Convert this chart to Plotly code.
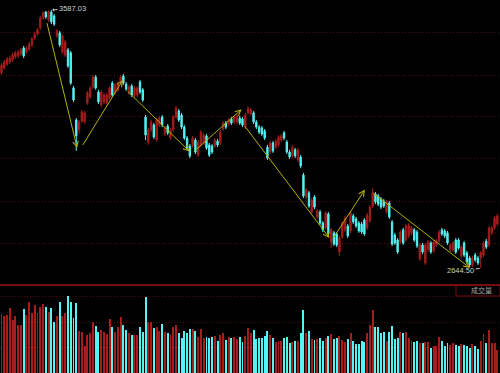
import plotly.graph_objects as go

# ---------------- data ----------------
opens = [3358,3376,3390,3398,3405,3416,3420,3427,3449,3434,3445,3460,3485,3500,3522,3558,3580,3551,3580,3566,
         3493,3504,3434,3423,3442,3431,3303,3186,3150,3182,3179,3248,3270,3306,3343,3288,3241,3252,3248,3266,
         3321,3285,3296,3321,3347,3317,3285,3310,3274,3277,3325,3296,3197,3106,3150,3168,3113,3168,3197,3135,
         3164,3120,3150,3197,3219,3204,3160,3120,3091,3091,3113,3058,3095,3102,3128,3095,3091,3091,3109,3102,
         3153,3175,3171,3190,3179,3179,3193,3190,3160,3212,3208,3212,3179,3160,3157,3146,3087,3069,3102,3087,
         3095,3113,3139,3106,3069,3055,3077,3040,3051,2985,2905,2920,2850,2905,2832,2850,2810,2792,2843,2741,
         2774,2770,2704,2759,2785,2799,2781,2836,2825,2810,2806,2821,2792,2817,2872,2916,2909,2898,2890,2850,
         2883,2814,2766,2748,2741,2785,2748,2763,2774,2785,2777,2679,2730,2664,2712,2737,2708,2730,2744,2785,
         2781,2774,2712,2712,2748,2748,2690,2737,2701,2682,2657,2693,2682,2682,2693,2744,2730,2774,2792,2806]
highs = [3394,3405,3416,3420,3431,3438,3442,3449,3456,3456,3471,3489,3507,3522,3566,3584,3584,3586,3587.03,3573,
         3518,3511,3500,3478,3449,3438,3310,3193,3186,3223,3219,3292,3310,3350,3350,3296,3296,3285,3285,3310,
         3328,3321,3328,3350,3354,3325,3314,3317,3310,3310,3332,3303,3204,3157,3186,3175,3193,3201,3204,3164,
         3171,3157,3204,3237,3226,3212,3168,3128,3098,3128,3120,3113,3150,3139,3135,3102,3098,3120,3117,3150,
         3182,3182,3193,3197,3204,3208,3201,3197,3212,3237,3230,3219,3186,3168,3164,3153,3095,3109,3109,3117,
         3131,3135,3146,3113,3077,3095,3084,3084,3058,2993,2938,2927,2901,2912,2861,2858,2817,2854,2850,2792,
         2781,2777,2763,2817,2836,2806,2854,2843,2832,2817,2814,2828,2847,2876,2938,2923,2916,2905,2898,2894,
         2890,2821,2774,2755,2785,2792,2806,2810,2799,2792,2785,2737,2737,2737,2748,2744,2748,2752,2785,2792,
         2788,2781,2737,2744,2755,2755,2730,2744,2708,2690,2690,2701,2690,2708,2744,2752,2799,2799,2836,2843]
lows = [3350,3369,3383,3390,3398,3409,3412,3420,3412,3427,3438,3452,3478,3493,3515,3551,3555,3544,3536,3529,
        3485,3452,3427,3416,3376,3314,3252,3073,3135,3175,3171,3241,3263,3299,3296,3244,3233,3244,3241,3259,
        3270,3277,3288,3314,3314,3292,3277,3270,3266,3270,3281,3252,3113,3095,3142,3117,3106,3160,3160,3128,
        3131,3113,3142,3190,3179,3153,3113,3077,3047,3084,3062,3051,3087,3095,3077,3051,3062,3084,3087,3095,
        3146,3153,3164,3168,3171,3171,3168,3160,3153,3204,3201,3171,3153,3135,3128,3113,3040,3062,3066,3080,
        3087,3106,3113,3062,3044,3047,3047,3033,3011,2901,2898,2865,2843,2861,2825,2803,2777,2785,2763,2719,
        2726,2722,2690,2752,2777,2755,2774,2806,2792,2774,2770,2763,2785,2810,2865,2879,2872,2861,2865,2843,
        2825,2726,2730,2697,2733,2730,2741,2755,2766,2741,2719,2671,2697,2657,2704,2697,2701,2722,2737,2763,
        2755,2730,2704,2704,2697,2712,2682,2686,2660,2649,2649,2668,2657,2644.50,2686,2715,2722,2766,2785,2799]
closes = [3387,3398,3409,3412,3423,3431,3434,3442,3420,3449,3463,3482,3500,3515,3558,3577,3562,3582,3544,3536,
          3511,3460,3493,3471,3383,3321,3259,3128,3179,3215,3212,3285,3303,3343,3303,3252,3288,3277,3277,3303,
          3277,3314,3321,3343,3321,3299,3306,3277,3303,3303,3288,3259,3131,3150,3179,3124,3186,3193,3168,3157,
          3139,3150,3197,3230,3186,3160,3120,3084,3055,3120,3069,3106,3142,3131,3084,3058,3069,3113,3095,3142,
          3175,3160,3186,3175,3197,3201,3175,3168,3204,3226,3223,3179,3160,3142,3135,3120,3047,3102,3073,3109,
          3124,3128,3120,3069,3051,3087,3055,3077,3018,2909,2931,2872,2894,2868,2854,2810,2785,2847,2770,2785,
          2733,2730,2755,2810,2828,2763,2847,2814,2799,2781,2777,2770,2839,2868,2920,2887,2879,2868,2872,2887,
          2832,2733,2737,2704,2777,2737,2799,2803,2792,2748,2726,2730,2704,2730,2741,2704,2741,2744,2777,2770,
          2763,2737,2730,2737,2704,2719,2722,2693,2668,2657,2682,2675,2664,2701,2737,2722,2792,2792,2828,2836]
volumes = [3000,2900,2950,3300,2700,2900,2450,2450,3250,2950,3600,3050,3450,3050,3350,3500,3350,3100,3300,2600,
           2900,3600,2900,3050,3900,3600,2800,3550,2150,2100,1400,1950,2050,2600,2400,2100,2200,2100,2000,2750,
           2350,2100,2350,2850,2450,2200,2050,1950,1950,1950,2350,2100,3850,2600,2600,2300,2350,2150,2500,2100,
           2050,1950,2350,2450,2050,1800,2150,2050,2250,2250,2150,1850,2250,1800,1850,1800,1850,1900,1650,1950,
           2050,1700,1850,1800,1850,1750,1850,1600,1900,2300,2050,2200,1750,1800,1800,1900,2150,1950,1800,1600,
           1650,1650,1800,1850,1550,1600,1650,1650,2050,3200,2050,2150,1750,1700,1750,1800,1650,1800,1900,2000,
           1750,1800,1900,1700,1600,1750,2050,1650,1500,1500,1650,1600,2050,2450,3200,2350,2350,2050,2100,1650,
           2100,2400,1750,1800,2100,2050,2100,1800,1650,1600,1650,1550,1550,1600,1600,1300,1400,1400,1850,1650,
           1400,1550,1450,1550,1450,1400,1500,1450,1400,1300,1500,1400,1250,1650,2000,1550,2200,1550,1550,1200]
days = list(range(len(closes)))

high_label = "3587.03"
low_label = "2644.50"
volume_label = "成交量"

# wave arrows: start day/price -> end day/price
wave_x0 = [16.3, 29.0, 45.0, 68.9, 87.5, 119.3, 133.6]
wave_y0 = [3545, 3089, 3296, 3066, 3168, 2748, 2924]
wave_x1 = [27.3, 43.8, 67.9, 86.7, 118.4, 131.2, 169.1]
wave_y1 = [3084, 3332, 3071, 3225, 2755, 2932, 2646]

price_grid = [3504, 3350, 3197, 3044, 2890, 2737]
volume_grid = [1300, 2600, 3900]

# ---------------- style ----------------
RED = "#a51d1d"
CYAN = "#55f4f4"
GRID = "#4e1010"
ARROW = "#b3b000"

hi_i = highs.index(max(highs))
lo_i = lows.index(min(lows))
vol_colors = [RED if c >= o else CYAN for o, c in zip(opens, closes)]

fig = go.Figure()
fig.add_trace(go.Candlestick(
    x=days, open=opens, high=highs, low=lows, close=closes,
    increasing=dict(line=dict(color=RED, width=1), fillcolor=RED),
    decreasing=dict(line=dict(color=CYAN, width=1), fillcolor=CYAN),
    whiskerwidth=0, hoverinfo="skip", xaxis="x", yaxis="y", showlegend=False))
fig.add_trace(go.Bar(
    x=days, y=volumes, marker=dict(color=vol_colors, line=dict(width=0)),
    width=0.7, xaxis="x2", yaxis="y2", hoverinfo="skip", showlegend=False))

anns = []
for x0, y0, x1, y1 in zip(wave_x0, wave_y0, wave_x1, wave_y1):
    anns.append(dict(x=x1, y=y1, ax=x0, ay=y0, xref="x", yref="y", axref="x", ayref="y",
                     text="", showarrow=True, arrowhead=5, arrowsize=1.1, arrowwidth=1,
                     arrowcolor=ARROW, standoff=0))
anns.append(dict(x=days[hi_i], y=highs[hi_i], xref="x", yref="y", text=high_label,
                 showarrow=True, ax=21, ay=-2, arrowhead=1, arrowsize=0.6, arrowwidth=1,
                 arrowcolor="#c8c8c8", standoff=1,
                 font=dict(family="Liberation Sans, Arial", size=7.5, color="#cfcfcf")))
anns.append(dict(x=days[lo_i], y=lows[lo_i], xref="x", yref="y", text=low_label,
                 showarrow=True, ax=-20, ay=2, arrowhead=0, arrowwidth=1,
                 arrowcolor="#c8c8c8", standoff=1,
                 font=dict(family="Liberation Sans, Arial", size=7.5, color="#cfcfcf")))
anns.append(dict(x=0.962, y=0.94, xref="paper", yref="y2 domain", text=volume_label,
                 showarrow=False, xanchor="center", yanchor="middle",
                 font=dict(family="Noto Sans CJK SC", size=7, color="#a8a8a8")))

shapes = [
    dict(type="line", xref="paper", yref="y2 domain", x0=0, x1=1, y0=1, y1=1,
         line=dict(color="#7a0c0c", width=2)),
    dict(type="rect", xref="paper", yref="y2 domain", x0=0.912, x1=1.0, y0=0.875, y1=1.0,
         line=dict(color="#7a0c0c", width=1)),
]

axis_common = dict(showticklabels=False, ticks="", showline=False, zeroline=False)
fig.update_layout(
    width=500, height=373, margin=dict(l=0, r=0, t=0, b=0),
    paper_bgcolor="black", plot_bgcolor="black", showlegend=False,
    bargap=0, annotations=anns, shapes=shapes,
    xaxis=dict(domain=[0, 1], range=[-0.54, 179.96], visible=False, anchor="y",
               rangeslider=dict(visible=False)),
    xaxis2=dict(domain=[0, 1], range=[-0.54, 179.96], visible=False, anchor="y2", matches="x"),
    yaxis=dict(domain=[0.2413, 1], range=[2591, 3624], tickvals=price_grid, showgrid=True,
               gridcolor=GRID, griddash="1px,2px", gridwidth=1, **axis_common),
    yaxis2=dict(domain=[0, 0.2359], range=[50, 4450], tickvals=volume_grid, showgrid=True,
                gridcolor=GRID, griddash="1px,2px", gridwidth=1, **axis_common),
)

fig.write_html(
    "out.html",
    config={"displayModeBar": False, "staticPlot": True},
    post_script="document.body.style.margin='0';document.body.style.padding='0';"
                "document.body.style.background='black';document.body.style.overflow='hidden';",
)
